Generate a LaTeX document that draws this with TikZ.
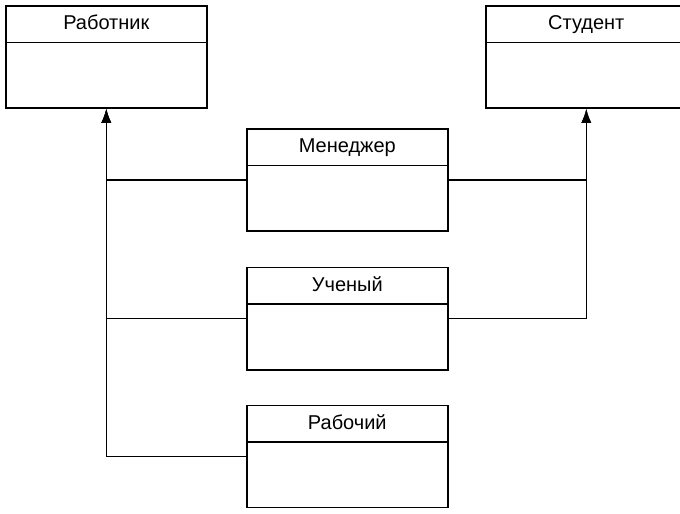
\documentclass[tikz,border=0pt]{standalone}
\usepackage{fontspec}
\setmainfont{Liberation Sans}
\usetikzlibrary{positioning, arrows.meta, shapes.multipart}

\tikzset{
  cls/.style={draw=black, line width=1.6pt, rectangle split, rectangle split parts=2,
    text width=201pt, align=center, inner sep=0pt, anchor=north west,
    font=\fontsize{20}{23}\selectfont},
  inh/.style={line width=1.4pt, -{Latex[length=14pt,width=10pt]}}
}
\newcommand{\clsbox}[1]{\rule[-12pt]{0pt}{35pt}#1\nodepart{two}\rule{0pt}{64pt}}

\begin{document}
\begin{tikzpicture}[x=1pt,y=1pt]
\useasboundingbox (0,0) rectangle (680,-514);
% base classes
\node[cls] (rabotnik) at (5,-5) {\clsbox{Работник}};
\node[cls] (student) at (485,-5) {\clsbox{Студент}};
% derived classes
\node[cls] (menedzher) at (246,-128) {\clsbox{Менеджер}};
\node[cls, below=35pt of menedzher.south west, anchor=north west] (uchenyi) {\clsbox{Ученый}};
\node[cls, below=34pt of uchenyi.south west, anchor=north west] (rabochiy) {\clsbox{Рабочий}};

\draw[inh] (menedzher.west) -| (rabotnik.south);
\draw[inh] (uchenyi.west) -| (rabotnik.south);
\draw[inh] (rabochiy.west) -| (rabotnik.south);
\draw[inh] (menedzher.east) -| (student.south);
\draw[inh] (uchenyi.east) -| (student.south);
\end{tikzpicture}
\end{document}
